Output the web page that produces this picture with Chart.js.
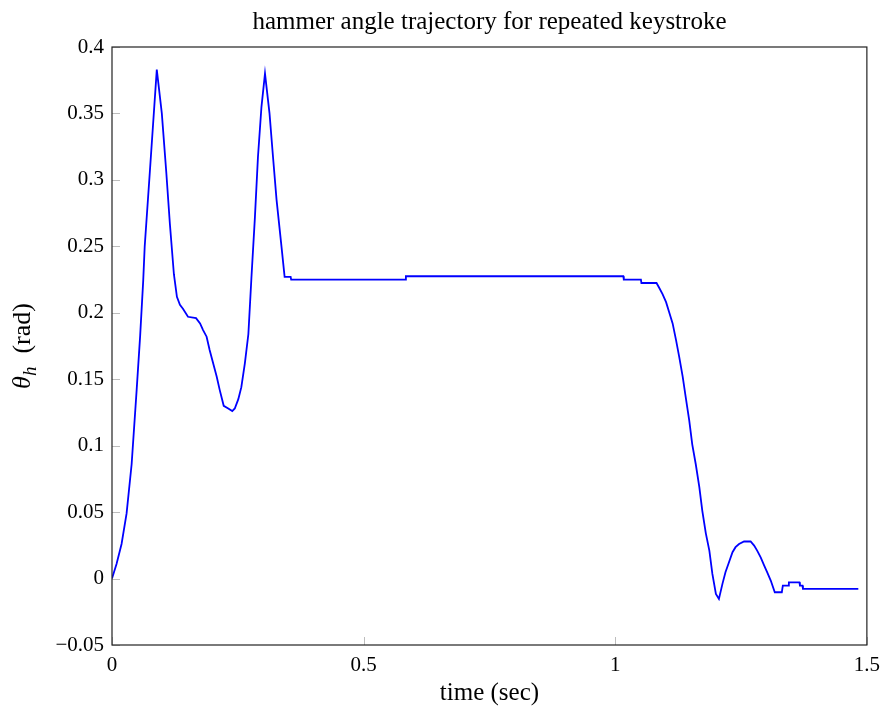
<!DOCTYPE html>
<html>
<head>
<meta charset="utf-8">
<script src="https://cdn.jsdelivr.net/npm/chart.js@4/dist/chart.umd.min.js"></script>
<style>
  html, body { margin: 0; padding: 0; background: #fff; }
  #wrap { width: 888px; height: 708px; }
</style>
</head>
<body>
<div id="wrap"><canvas id="myChart" width="888" height="708"></canvas></div>
<script>
// hammer angle samples (time in sec, angle in rad)
const timeSec = [
  0.000, 0.009, 0.019, 0.029, 0.039, 0.049, 0.056, 0.062, 0.065, 0.075,
  0.089, 0.099, 0.108, 0.115, 0.123, 0.129, 0.135, 0.141, 0.151, 0.167,
  0.175, 0.181, 0.188, 0.194, 0.201, 0.208, 0.214, 0.222, 0.231, 0.239,
  0.244, 0.251, 0.257, 0.264, 0.271, 0.277, 0.284, 0.290, 0.297, 0.304,
  0.313, 0.320, 0.327, 0.337, 0.343, 0.355, 0.356, 0.583, 0.584, 1.016,
  1.017, 1.051, 1.052, 1.082, 1.087, 1.094, 1.101, 1.107, 1.114, 1.121,
  1.127, 1.134, 1.140, 1.147, 1.153, 1.160, 1.167, 1.173, 1.180, 1.187,
  1.193, 1.200, 1.206, 1.213, 1.219, 1.226, 1.233, 1.239, 1.246, 1.256,
  1.269, 1.276, 1.282, 1.289, 1.296, 1.302, 1.309, 1.317, 1.331, 1.333,
  1.344, 1.345, 1.366, 1.367, 1.372, 1.373, 1.483
];
const thetaH = [
  0.000, 0.011, 0.026, 0.049, 0.086, 0.142, 0.183, 0.224, 0.250, 0.305,
  0.383, 0.350, 0.305, 0.267, 0.229, 0.212, 0.206, 0.203, 0.197, 0.196,
  0.192, 0.187, 0.182, 0.172, 0.162, 0.152, 0.142, 0.130, 0.128, 0.126,
  0.128, 0.135, 0.144, 0.162, 0.184, 0.226, 0.272, 0.317, 0.355, 0.380,
  0.350, 0.317, 0.285, 0.249, 0.227, 0.227, 0.225, 0.225, 0.2275, 0.2275,
  0.225, 0.225, 0.2224, 0.2224, 0.219, 0.214, 0.208, 0.2005, 0.192, 0.179,
  0.167, 0.152, 0.1365, 0.119, 0.101, 0.086, 0.069, 0.051, 0.034, 0.021,
  0.0035, -0.0115, -0.0153, -0.004, 0.0048, 0.0123, 0.0198, 0.0236, 0.026, 0.0279,
  0.0279, 0.0248, 0.021, 0.016, 0.0098, 0.0047, -0.0015, -0.0103, -0.0103, -0.0053,
  -0.0053, -0.0028, -0.0028, -0.0053, -0.0053, -0.0078, -0.0078
];
const xTicks = [0, 0.5, 1, 1.5];
const yTicks = [-0.05, 0, 0.05, 0.1, 0.15, 0.2, 0.25, 0.3, 0.35, 0.4];
const chartTitle = 'hammer angle trajectory for repeated keystroke';

const serif = "'Liberation Serif', 'DejaVu Serif', serif";

function fmt(v) {
  const s = String(parseFloat(v.toFixed(4)));
  return s.replace('-', '\u2212');
}

// frame around the plot area, short inward tick marks, the title
// centred over the plot, and the y axis title (italic theta, subscript h)
const framePlugin = {
  id: 'frame',
  afterDraw(chart) {
    const { ctx, chartArea: a, scales } = chart;
    ctx.save();
    ctx.strokeStyle = '#bdbdbd';
    ctx.lineWidth = 1;
    scales.y.ticks.forEach(t => {
      const y = Math.round(scales.y.getPixelForValue(t.value)) + 0.5;
      ctx.beginPath(); ctx.moveTo(a.left, y); ctx.lineTo(a.left + 8, y); ctx.stroke();
    });
    scales.x.ticks.forEach(t => {
      const x = Math.round(scales.x.getPixelForValue(t.value)) + 0.5;
      ctx.beginPath(); ctx.moveTo(x, a.bottom); ctx.lineTo(x, a.bottom - 8); ctx.stroke();
    });
    ctx.strokeStyle = '#222';
    ctx.lineWidth = 1.2;
    ctx.strokeRect(a.left, a.top, a.right - a.left, a.bottom - a.top);

    ctx.fillStyle = '#000';
    ctx.font = '25px ' + serif;
    ctx.textAlign = 'center';
    ctx.textBaseline = 'middle';
    ctx.fillText(chartTitle, (a.left + a.right) / 2, 22);

    const parts = [
      { text: '\u03b8', font: 'italic 26px ' + serif, dy: 0 },
      { text: 'h', font: 'italic 19px ' + serif, dy: 6 },
      { text: '  (rad)', font: '26px ' + serif, dy: 0 }
    ];
    let total = 0;
    parts.forEach(p => { ctx.font = p.font; p.w = ctx.measureText(p.text).width; total += p.w; });
    ctx.translate(30, (a.top + a.bottom) / 2);
    ctx.rotate(-Math.PI / 2);
    ctx.textBaseline = 'alphabetic';
    ctx.textAlign = 'left';
    let x = -total / 2;
    parts.forEach(p => {
      ctx.font = p.font;
      ctx.fillText(p.text, x, p.dy);
      x += p.w;
    });
    ctx.restore();
  }
};

const data = timeSec.map((t, i) => ({ x: t, y: thetaH[i] }));

new Chart(document.getElementById('myChart').getContext('2d'), {
  type: 'line',
  data: {
    datasets: [{
      label: 'theta_h',
      data: data,
      borderColor: '#0000ff',
      borderWidth: 1.8,
      pointRadius: 0,
      tension: 0,
      fill: false
    }]
  },
  options: {
    responsive: false,
    animation: false,
    layout: { padding: { left: 0, right: 21, top: 47, bottom: 0 } },
    plugins: {
      legend: { display: false },
      tooltip: { enabled: false },
      title: { display: false }
    },
    scales: {
      x: {
        type: 'linear',
        min: 0,
        max: 1.5,
        afterBuildTicks: s => { s.ticks = xTicks.map(v => ({ value: v })); },
        afterFit: s => { s.height = 63; },
        grid: { display: false, drawTicks: false },
        border: { display: false },
        ticks: {
          padding: 8,
          color: '#000',
          font: { family: serif, size: 21 },
          maxRotation: 0,
          callback: v => fmt(v)
        },
        title: {
          display: true,
          text: 'time (sec)',
          color: '#000',
          font: { family: serif, size: 25 },
          padding: { top: 0, bottom: 0 }
        }
      },
      y: {
        type: 'linear',
        min: -0.05,
        max: 0.4,
        afterBuildTicks: s => { s.ticks = yTicks.map(v => ({ value: v })); },
        afterFit: s => { s.width = 112; },
        grid: { display: false, drawTicks: false },
        border: { display: false },
        ticks: {
          padding: 8,
          color: '#000',
          font: { family: serif, size: 21 },
          callback: v => fmt(v)
        }
      }
    }
  },
  plugins: [framePlugin]
});
</script>
</body>
</html>
